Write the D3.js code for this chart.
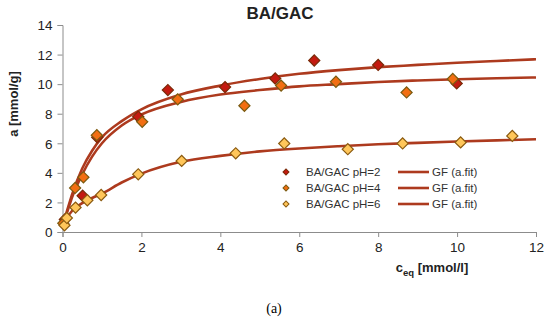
<!DOCTYPE html>
<html>
<head>
<meta charset="utf-8">
<script src="https://cdn.jsdelivr.net/npm/d3@7"></script>
<style>
  body { margin: 0; background: #fff; }
  svg { display: block; font-family: "Liberation Sans", Arial, sans-serif; }
</style>
</head>
<body>
<div id="chart"></div>
<script>
// measured points [c_eq, a]
var ph2 = [[0.06,0.85],[0.51,2.45],[0.88,6.4],[1.92,7.8],[2.67,9.6],[4.12,9.8],[5.39,10.38],[6.38,11.6],[8.0,11.3],[9.99,10.05]];
var ph4 = [[0.02,0.6],[0.32,2.98],[0.53,3.7],[0.87,6.55],[2.02,7.45],[2.92,8.97],[4.61,8.54],[5.54,9.9],[6.93,10.16],[8.72,9.44],[9.89,10.35]];
var ph6 = [[0.05,0.45],[0.11,0.95],[0.33,1.65],[0.63,2.15],[0.98,2.5],[1.92,3.9],[3.02,4.81],[4.39,5.32],[5.62,5.99],[7.23,5.6],[8.62,5.99],[10.09,6.06],[11.4,6.5]];

// fitted curves (GF)
var fitX  = [0, 0.1, 0.25, 0.5, 0.75, 1, 1.5, 2, 3, 4, 5, 6, 7, 8, 9, 10, 11, 12];
var fit2  = [0.5, 1.3, 2.6, 4.3, 5.5, 6.4, 7.5, 8.3, 9.3, 9.9, 10.35, 10.7, 10.95, 11.15, 11.3, 11.45, 11.57, 11.68];
var fit4  = [0.5, 1.2, 2.4, 3.9, 5.1, 6.0, 7.2, 7.95, 8.8, 9.3, 9.6, 9.85, 10.0, 10.15, 10.25, 10.33, 10.4, 10.45];
var fit6  = [0.3, 0.9, 1.45, 1.95, 2.3, 2.6, 3.35, 3.95, 4.75, 5.15, 5.45, 5.65, 5.8, 5.93, 6.03, 6.12, 6.2, 6.27];

var seriesNames = ["BA/GAC pH=2", "BA/GAC pH=4", "BA/GAC pH=6"];
var fitName = "GF (a.fit)";
var xTicks = [0, 2, 4, 6, 8, 10, 12];
var yTicks = [0, 2, 4, 6, 8, 10, 12, 14];

var fills = ["#c41a10", "#f26e12", "#ffc65a"];
var strokes = ["#7a2a08", "#7a5a10", "#8a5a10"];
var lineColor = "#ad3a1e";

var W = 550, H = 320;
var margin = {top: 25, right: 14, bottom: 88, left: 62.5},
    width = W - margin.left - margin.right,
    height = H - margin.top - margin.bottom;

var svg = d3.select("#chart").append("svg")
    .attr("width", W).attr("height", H);

var g = svg.append("g")
    .attr("transform", "translate(" + margin.left + "," + margin.top + ")");

var x = d3.scaleLinear().domain([0, 12]).range([0, width]);
var y = d3.scaleLinear().domain([0, 14]).range([height, 0]);

// axes
var xAxis = g.append("g")
    .attr("transform", "translate(0," + height + ")")
    .call(d3.axisBottom(x).tickValues(xTicks).tickSize(5).tickPadding(5));
var yAxis = g.append("g")
    .call(d3.axisLeft(y).tickValues(yTicks).tickSize(5).tickPadding(5));
[xAxis, yAxis].forEach(function(a) {
  a.selectAll("path, line").attr("stroke", "#8c8c8c");
  a.selectAll("text").attr("fill", "#222").style("font-size", "13.5px")
    .style("font-family", "Liberation Sans, Arial, sans-serif");
});
yAxis.selectAll("text").attr("dy", "0.35em");

// fit curves
var line = d3.line()
    .x(function(d) { return x(d[0]); })
    .y(function(d) { return y(d[1]); })
    .curve(d3.curveMonotoneX);

[fit2, fit4, fit6].forEach(function(f) {
  var pts = fitX.map(function(v, i) { return [v, f[i]]; });
  g.append("path")
    .datum(pts)
    .attr("d", line)
    .attr("fill", "none")
    .attr("stroke", lineColor)
    .attr("stroke-width", 2.6);
});

// markers
var diamond = d3.symbol().type(d3.symbolSquare).size(62);
[ph2, ph4, ph6].forEach(function(s, i) {
  g.selectAll(".pt" + i)
    .data(s)
    .enter()
    .append("path")
      .attr("d", diamond)
      .attr("transform", function(d) { return "translate(" + x(d[0]) + "," + y(d[1]) + ") rotate(45)"; })
      .attr("fill", fills[i])
      .attr("stroke", strokes[i])
      .attr("stroke-width", 1.2);
});

// legend
var legendY = [172, 188, 204];
var smallDiamond = d3.symbol().type(d3.symbolSquare).size(18);
seriesNames.forEach(function(n, i) {
  svg.append("path")
    .attr("d", smallDiamond)
    .attr("transform", "translate(286," + legendY[i] + ") rotate(45)")
    .attr("fill", fills[i])
    .attr("stroke", strokes[i])
    .attr("stroke-width", 1);
  svg.append("text")
    .attr("x", 306).attr("y", legendY[i])
    .attr("dy", "0.35em")
    .style("font-size", "11.5px")
    .attr("fill", "#333")
    .text(n);
  svg.append("line")
    .attr("x1", 398).attr("x2", 429)
    .attr("y1", legendY[i]).attr("y2", legendY[i])
    .attr("stroke", lineColor)
    .attr("stroke-width", 2.6);
  svg.append("text")
    .attr("x", 432).attr("y", legendY[i])
    .attr("dy", "0.35em")
    .style("font-size", "11.5px")
    .attr("fill", "#333")
    .text(fitName);
});

// title and labels
svg.append("text")
  .attr("x", 280).attr("y", 19)
  .attr("text-anchor", "middle")
  .style("font-size", "17px").style("font-weight", "bold")
  .attr("fill", "#222")
  .text("BA/GAC");

svg.append("text")
  .attr("transform", "translate(18,104) rotate(-90)")
  .attr("text-anchor", "middle")
  .style("font-size", "13px").style("font-weight", "bold")
  .attr("fill", "#222")
  .text("a [mmol/g]");

var xl = svg.append("text")
  .attr("x", 432).attr("y", 272)
  .attr("text-anchor", "middle")
  .style("font-size", "13px").style("font-weight", "bold")
  .attr("fill", "#222");
xl.append("tspan").text("c");
xl.append("tspan").attr("dy", 4).style("font-size", "9.5px").text("eq");
xl.append("tspan").attr("dy", -4).text(" [mmol/l]");

svg.append("text")
  .attr("x", 274).attr("y", 313)
  .attr("text-anchor", "middle")
  .style("font-family", "Liberation Serif, Times New Roman, serif")
  .style("font-size", "14px")
  .attr("fill", "#000")
  .text("(a)");
</script>
</body>
</html>
